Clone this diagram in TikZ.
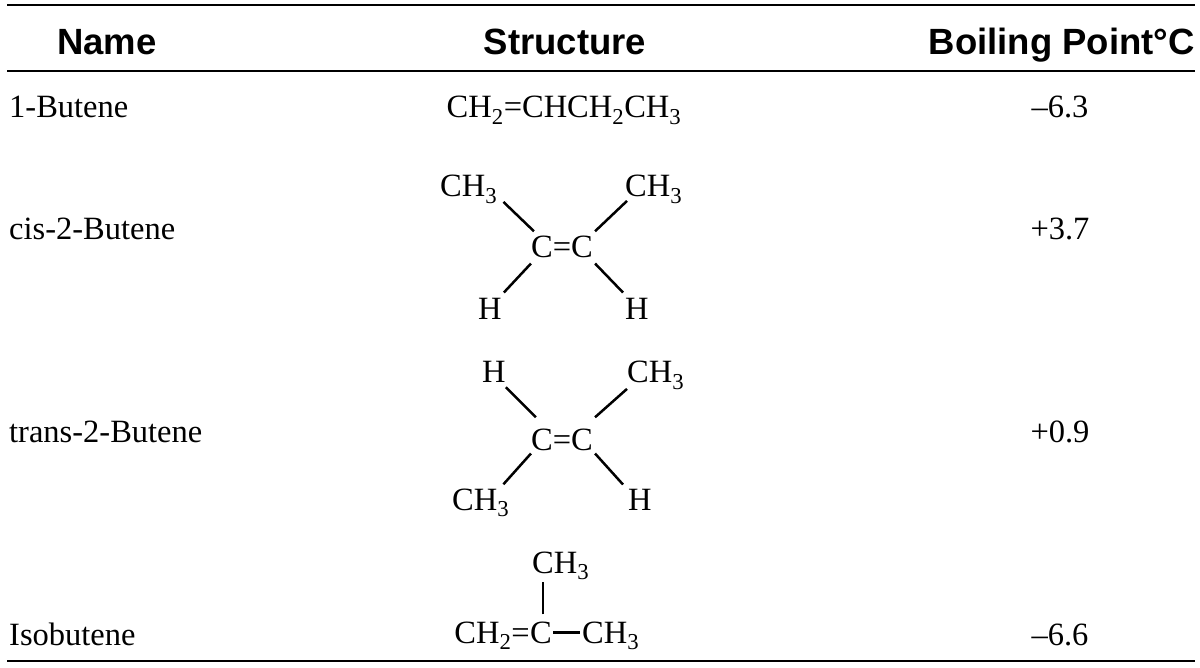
\documentclass[tikz,border=0pt]{standalone}
\usepackage{fontspec}
\setmainfont{Liberation Serif}
\newfontfamily\headfont{Liberation Sans}
\usetikzlibrary{positioning}

\tikzset{
  head/.style={font=\headfont\bfseries\fontsize{36.5}{40}\selectfont, inner sep=0pt},
  txt/.style={font=\fontsize{32.5}{36}\selectfont, inner sep=0pt},
  atom/.style={txt, anchor=base west},
  bond/.style={line width=2.5pt},
  rule/.style={line width=2.2pt},
}
\newcommand{\sub}[1]{\textsubscript{#1}}

\begin{document}
\begin{tikzpicture}[x=1pt,y=-1pt]
  \useasboundingbox (0,0) rectangle (1200,668);
  % rules
  \draw[rule] (7,5) -- (1195,5);
  \draw[rule] (7,71) -- (1195,71);
  \draw[rule] (7,661) -- (1195,661);
  % header
  \node[head, anchor=base] (hname) at (107,55) {Name};
  \node[head, anchor=base] (hstruct) at (565,55) {Structure};
  \node[head, anchor=base east] (hbp) at (1195,55) {Boiling Point°C};
  % names
  \node[txt, anchor=base west] (n1) at (9,118) {1-Butene};
  \node[txt, anchor=base west] (n2) at (9,240) {cis-2-Butene};
  \node[txt, anchor=base west] (n3) at (9,442) {trans-2-Butene};
  \node[txt, anchor=base west] (n4) at (9,645) {Isobutene};
  % boiling points
  \node[txt, anchor=base] (b1) at (1060,118) {–6.3};
  \node[txt, anchor=base] (b2) at (1060,240) {+3.7};
  \node[txt, anchor=base] (b3) at (1060,442) {+0.9};
  \node[txt, anchor=base] (b4) at (1060,645) {–6.6};
  % 1-butene
  \node[txt, anchor=base] (s1) at (564,118) {CH\sub{2}=CHCH\sub{2}CH\sub{3}};
  % cis-2-butene
  \node[txt, anchor=base] (cab) at (562,258) {C=C};
  \node[atom] (ma) at (440,197) {CH\sub{3}};
  \node[atom] (mb) at (625,197) {CH\sub{3}};
  \node[atom] (ha) at (478,320) {H};
  \node[atom] (hb) at (625,320) {H};
  \draw[bond] ([shift={(6,-2)}]ma.south east) -- ([shift={(3,-5)}]cab.north west);
  \draw[bond] ([shift={(2,-3)}]mb.south west) -- ([shift={(2,-5)}]cab.north east);
  \draw[bond] ([shift={(0,5)}]cab.south west) -- ([shift={(2,-6)}]ha.north east);
  \draw[bond] ([shift={(2,5)}]cab.south east) -- ([shift={(-2,-6)}]hb.north west);
  % trans-2-butene
  \node[txt, anchor=base] (ccd) at (562,450) {C=C};
  \node[atom] (hc) at (482,383) {H};
  \node[atom] (mc) at (627,383) {CH\sub{3}};
  \node[atom] (md) at (452,510) {CH\sub{3}};
  \node[atom] (hd) at (628,510) {H};
  \draw[bond] ([shift={(0,4)}]hc.south east) -- ([shift={(5,-11)}]ccd.north west);
  \draw[bond] ([shift={(0,-1)}]mc.south west) -- ([shift={(2,-11)}]ccd.north east);
  \draw[bond] ([shift={(0,3)}]ccd.south west) -- ([shift={(-6,-4)}]md.north east);
  \draw[bond] ([shift={(2,3)}]ccd.south east) -- ([shift={(-5,-4)}]hd.north west);
  % isobutene
  \node[txt, anchor=base] (ce) at (541,643) {C};
  \node[txt, anchor=base east] (ee) at (ce.base west) {CH\sub{2}=};
  \node[atom] (me) at (532,573) {CH\sub{3}};
  \node[atom] (mf) at (582,643) {CH\sub{3}};
  \draw[bond] ([shift={(2,-7)}]ce.north) -- ([shift={(2,2)}]ce.north |- me.south);
  \draw[bond] ([xshift=1pt]ce.east) -- ([xshift=-2pt]ce.east -| mf.west);
\end{tikzpicture}
\end{document}
